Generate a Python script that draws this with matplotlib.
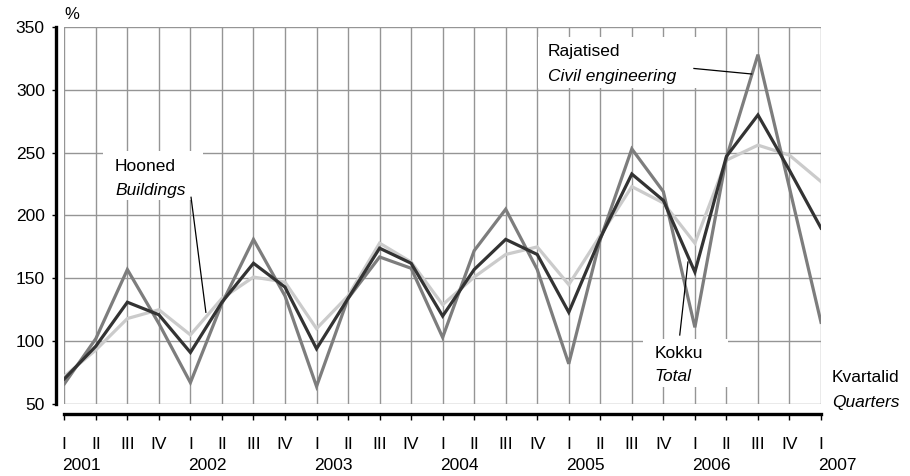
import matplotlib
matplotlib.use("Agg")
import matplotlib.pyplot as plt
from matplotlib.patches import Rectangle
import matplotlib.transforms as mtransforms

plt.rcParams['font.family'] = ['Liberation Sans', 'DejaVu Sans']

# quarters 2001 I .. 2007 I
quarters = ["I", "II", "III", "IV"] * 6 + ["I"]
years = ["2001", "2002", "2003", "2004", "2005", "2006", "2007"]

civil = [66, 102, 157, 114, 67, 130, 181, 136, 64, 134, 167, 158,
         103, 172, 205, 157, 82, 181, 253, 219, 111, 246, 328, 222, 115]
total = [70, 96, 131, 121, 91, 131, 162, 143, 94, 134, 174, 162,
         120, 157, 181, 169, 123, 182, 233, 212, 155, 247, 280, 236, 190]
buildings = [72, 93, 118, 125, 105, 134, 151, 147, 110, 136, 178, 163,
             129, 151, 169, 175, 145, 184, 223, 210, 178, 244, 256, 248, 227]

x = list(range(len(quarters)))

fig = plt.figure(figsize=(9.1, 4.76), dpi=100)
ax = fig.add_axes([64.3 / 910, 1 - 404 / 476, (821 - 64.3) / 910, 377 / 476])

# series
ax.plot(x, buildings, color='#cbcbcb', lw=2.3, zorder=3, solid_joinstyle='miter')
ax.plot(x, civil, color='#7d7d7d', lw=2.3, zorder=4, solid_joinstyle='miter')
ax.plot(x, total, color='#333333', lw=2.3, zorder=5, solid_joinstyle='miter')

ax.set_xlim(0, 24)
ax.set_ylim(50, 350)
ax.set_yticks(range(50, 351, 50))
ax.set_xticks(x)
ax.set_xticklabels(quarters)

ax.grid(True, color='#959595', lw=1.0)
ax.set_axisbelow(True)

for s in ['top', 'right']:
    ax.spines[s].set_visible(False)
ax.spines['left'].set_position(('outward', 6))
ax.spines['left'].set_linewidth(2.4)
ax.spines['bottom'].set_position(('outward', 7.5))
ax.spines['bottom'].set_linewidth(2.4)

ax.tick_params(axis='y', length=3, width=1, pad=5, labelsize=12.5)
ax.tick_params(axis='x', length=4.5, width=1, pad=11.5, labelsize=12.5)

# year labels under each "I"
trans = mtransforms.blended_transform_factory(ax.transData, ax.transAxes)
for i, yr in enumerate(years):
    ax.text(i * 4 - 0.08, -0.163, yr, transform=trans, ha='left', va='center',
            fontsize=12.5, clip_on=False)

ax.text(0.0, 1.032, "%", transform=ax.transAxes, ha='left', va='center', fontsize=12)

# annotation boxes
def label(x0, y0, w, h, tx, ty1, ty2, t1, t2):
    ax.add_patch(Rectangle((x0, y0), w, h, facecolor='white', edgecolor='none', zorder=2))
    ax.text(tx, ty1, t1, ha='left', va='center', fontsize=12.5, zorder=6)
    ax.text(tx, ty2, t2, ha='left', va='center', fontsize=12.5, style='italic', zorder=6)

label(1.23, 212, 3.17, 39.5, 1.61, 239, 220, "Hooned", "Buildings")
ax.plot([4.02, 4.49], [214.5, 123], color='black', lw=0.9, zorder=6)

label(15.02, 301.5, 5.13, 40.5, 15.33, 330.5, 311, "Rajatised", "Civil engineering")
ax.plot([19.97, 21.8], [317, 312.6], color='black', lw=0.9, zorder=6)

label(18.35, 63.5, 2.69, 38.5, 18.73, 90, 72, "Kokku", "Total")
ax.plot([19.52, 19.78], [104.9, 163], color='black', lw=0.9, zorder=6)

ax.text(24.34, 71, "Kvartalid", ha='left', va='center', fontsize=12.5, clip_on=False)
ax.text(24.34, 51.2, "Quarters", ha='left', va='center', fontsize=12.5,
        style='italic', clip_on=False)

fig.savefig("out.png", dpi=100)
